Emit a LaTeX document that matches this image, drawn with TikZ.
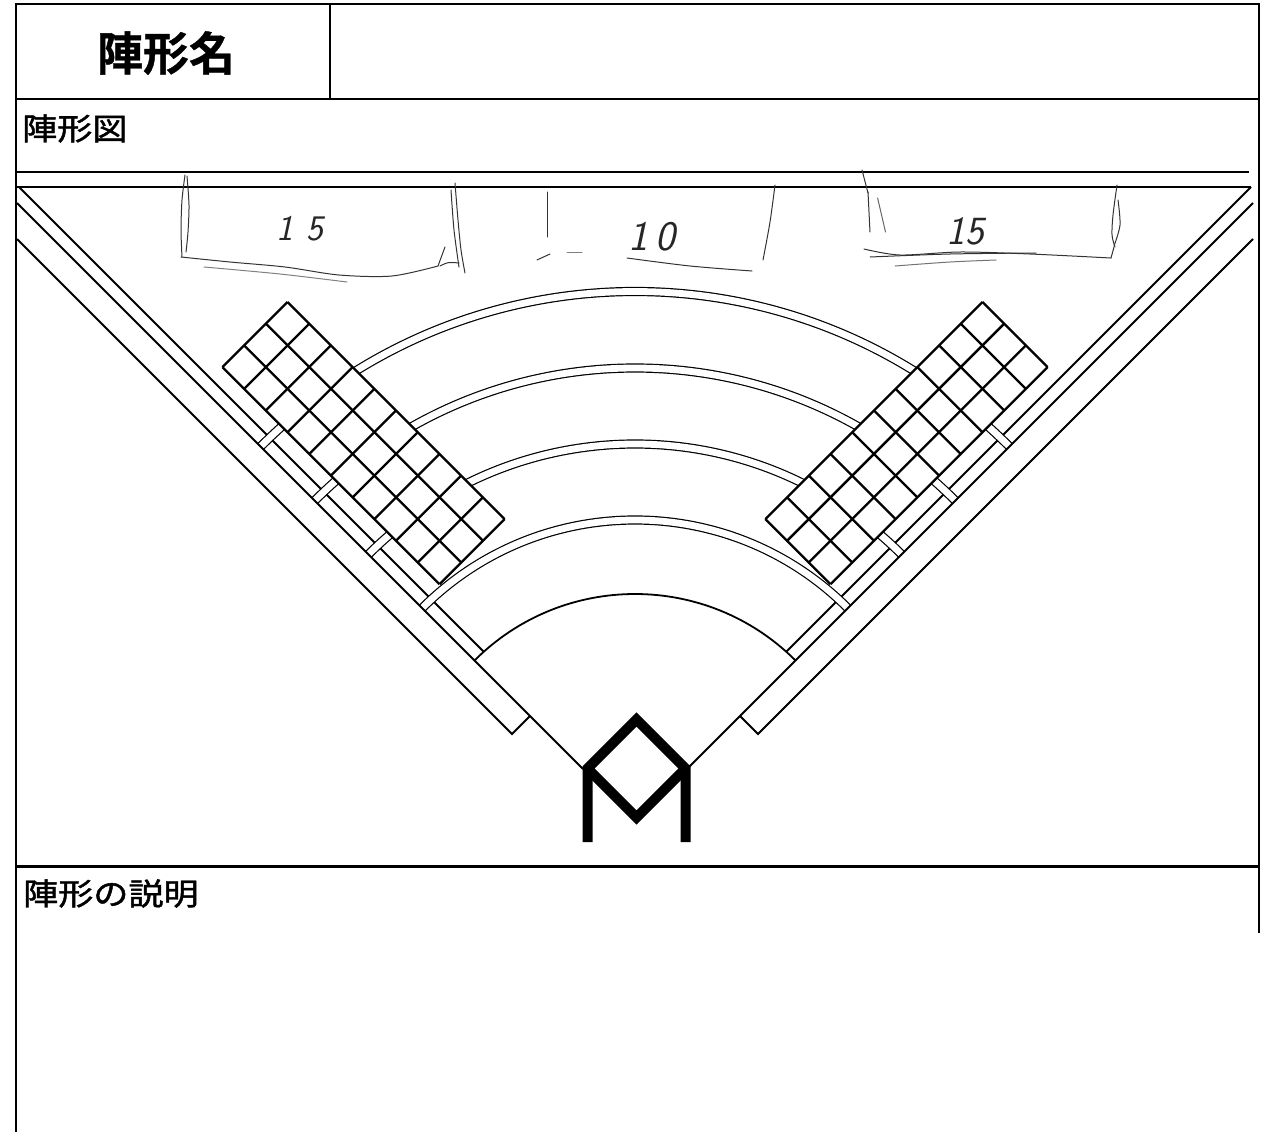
\documentclass[tikz,border=0pt]{standalone}
\usepackage{graphicx}
\usepackage{fontspec}
\newfontfamily\cjk{Noto Sans CJK JP}[BoldFont={Noto Sans CJK JP Bold}]
\newfontfamily\cjkm{Noto Sans CJK JP}[FakeBold=1.3]
\newfontfamily\cjkb{Noto Sans CJK JP Bold}[FakeBold=0.8]
\begin{document}
\begin{tikzpicture}[x=1pt,y=-1pt,
  frameline/.style={line width=2pt},
  fline/.style={line width=1.8pt},
  gline/.style={line width=2.3pt},
  pen/.style={line width=1pt, black!80, line cap=round, line join=round},
  hand/.style={font=\sffamily\slshape\fontsize{36}{36}\selectfont, inner sep=0pt, black!85},
  lab/.style={font=\cjkm\fontsize{30.5}{30.5}\selectfont, inner sep=0pt, anchor=west},
]
\useasboundingbox (0,0) rectangle (1261,1132);
% ---------- frame ----------
\draw[frameline] (16,1132) -- (16,4) -- (1259,4) -- (1259,933);
\draw[frameline] (16,99) -- (1259,99);
\draw[frameline] (330,4) -- (330,99);
\draw[line width=3pt] (16,866) -- (1259,866);
\node[font=\cjkb\fontsize{46}{46}\selectfont, inner sep=0pt] (title) at (166,53) {陣形名};
\node[lab] (figlabel) at (22,128.5) {\scalebox{1.15}[1]{陣形図}};
\node[lab] (desclabel) at (23,893.5) {\scalebox{1.15}[1]{陣形の説明}};
% ---------- top lines ----------
\draw[line width=2.8pt] (17,172) -- (1249,172);
\draw[fline] (17,187) -- (1251,187);
\coordinate (O) at (635,821);
% ---------- side lines A and C ----------
\newcommand\sideAC{%
  \draw[fline] (19,187) -- (483.7,651.7);
  \draw[fline, line join=miter] (17,239) -- (512,734) -- (530,716);
}
\sideAC
\begin{scope}[xshift=1270pt, xscale=-1]\sideAC\end{scope}
% ---------- concentric double arcs ----------
\foreach \r in {529.5,453,377,301}{
  \draw[line width=9.2pt] (O) ++(225:\r) arc[start angle=225, end angle=315, radius=\r];
  \draw[line width=6.8pt, white] (O) ++(225:\r) arc[start angle=225, end angle=315, radius=\r];
}
\draw[line width=1.8pt] (O) ++(225:227) arc[start angle=225, end angle=315, radius=227];
% ---------- foul lines B ----------
\newcommand\sideB{\draw[fline] (17,203) -- (583,769);}
\sideB
\begin{scope}[xshift=1270pt, xscale=-1]\sideB\end{scope}
% ---------- stands grids ----------
\newcommand\standgrid{%
  \begin{scope}[shift={(222.4,367.1)}, x={(21.71pt,-21.71pt)}, y={(21.71pt,21.71pt)}]
    \fill[white] (0,0) -- (10,0) -- (10,3) -- (0,3) -- cycle;
    \foreach \i in {0,...,10} \draw[gline] (\i,0) -- (\i,3);
    \foreach \j in {0,...,3} \draw[gline] (0,\j) -- (10,\j);
  \end{scope}}
\standgrid
\begin{scope}[xshift=1270pt, xscale=-1]\standgrid\end{scope}
% ---------- home plate ----------
\draw[line width=10pt, line join=miter] (587.5,842) -- (587.5,768.5) -- (636.5,719.5) -- (685.5,768.5) -- (685.5,842);
\draw[line width=10pt, line join=miter] (587.5,768.5) -- (636.5,817.5) -- (685.5,768.5);
% ---------- hand-drawn boxes ----------
% box 1
\draw[pen] plot[smooth] coordinates {(185,175) (182,200) (181,230) (182,257)};
\draw[pen] plot[smooth] coordinates {(187,176) (189,205) (188,232) (186,252)};
\draw[pen] plot[smooth] coordinates {(181,257) (230,262) (285,267) (339,275) (392,276) (438,266)};
\draw[pen, black!50] plot[smooth] coordinates {(204,267) (280,274) (347,282)};
\draw[pen] (438,266) -- (445,247);
\draw[pen] plot[smooth] coordinates {(455,183) (458,220) (461,250) (465,273)};
\draw[pen] plot[smooth] coordinates {(451,190) (454,230) (459,267)};
\draw[pen] (440,266) .. controls (448,262) .. (459,263);
\node[hand] (n15a) at (300,229) {1\hspace{14pt}5};
% box 2
\draw[pen] (547,192) -- (547,237);
\draw[pen] (537,260) -- (550,254);
\draw[pen, black!50] (567,252) -- (582,252);
\draw[pen] plot[smooth] coordinates {(627,258) (690,266) (752,271)};
\draw[pen] plot[smooth] coordinates {(775,185) (770,222) (763,260)};
\node[hand, font=\sffamily\slshape\fontsize{42}{42}\selectfont] (n10) at (652,237) {1\hspace{8pt}0};
% box 3
\draw[pen] (862,170) -- (868,193);
\draw[pen] (868,192) -- (870,232);
\draw[pen, black!60] (877.6,198) -- (885.5,232);
\draw[pen] plot[smooth] coordinates {(864,249) (900,255) (960,252) (1030,254) (1111,258)};
\draw[pen] plot[smooth] coordinates {(870,257) (950,254) (1036,253)};
\draw[pen, black!55] plot[smooth] coordinates {(895,266) (950,262) (996,260)};
\draw[pen] plot[smooth] coordinates {(1117,185) (1113,215) (1112,235) (1115,247)};
\draw[pen] plot[smooth] coordinates {(1118,200) (1120,225) (1114,246)};
\draw[pen] (1114,247) -- (1111,258);
\node[hand, font=\sffamily\slshape\fontsize{40}{40}\selectfont] (n15b) at (965,231) {15};
\end{tikzpicture}
\end{document}
